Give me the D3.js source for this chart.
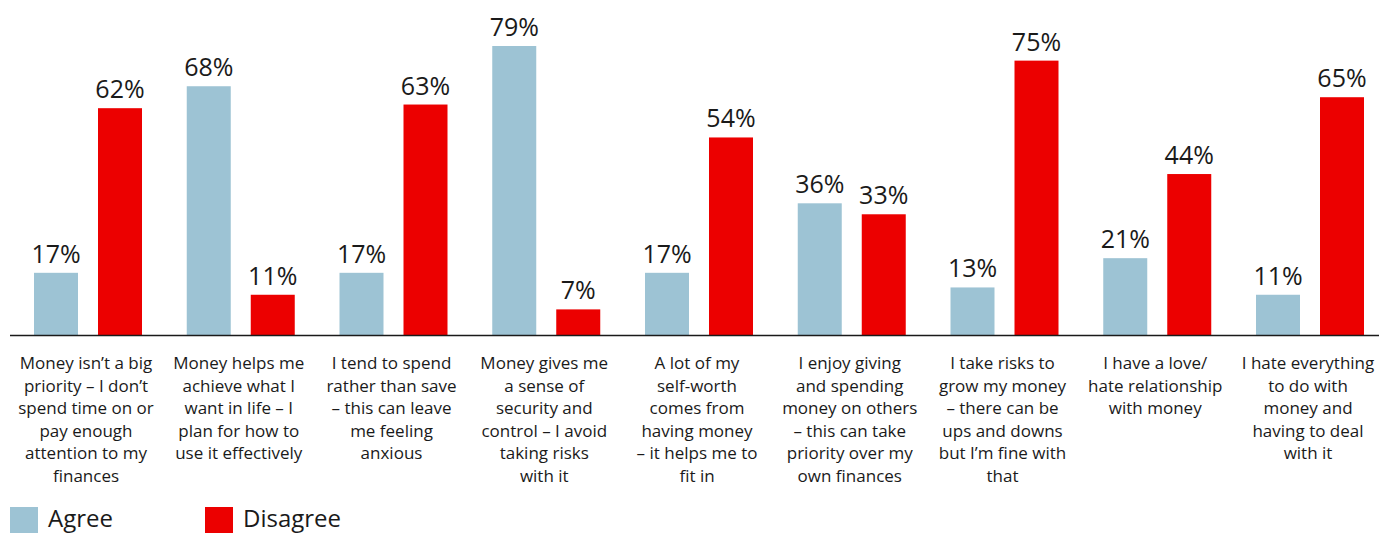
<!DOCTYPE html>
<html>
<head>
<meta charset="utf-8">
<script src="https://cdn.jsdelivr.net/npm/d3@7"></script>
<style>
  html, body { margin: 0; padding: 0; background: #fff; overflow: hidden; }
  svg { display: block; font-family: "Open Sans", sans-serif; }
</style>
</head>
<body>
<svg id="chart" width="1379" height="533"></svg>
<script>
// Attitudes to money: share who agree / disagree with each statement (%)
const categories = [
  "Money isn’t a big priority",
  "Money helps me achieve",
  "I tend to spend",
  "Money gives me security",
  "Self-worth from money",
  "Giving and spending on others",
  "Risks to grow money",
  "Love/hate relationship",
  "Hate everything about money"
];

const categoryLines = [
  ["Money isn’t a big", "priority – I don’t", "spend time on or", "pay enough", "attention to my", "finances"],
  ["Money helps me", "achieve what I", "want in life – I", "plan for how to", "use it effectively"],
  ["I tend to spend", "rather than save", "– this can leave", "me feeling", "anxious"],
  ["Money gives me", "a sense of", "security and", "control – I avoid", "taking risks", "with it"],
  ["A lot of my", "self-worth", "comes from", "having money", "– it helps me to", "fit in"],
  ["I enjoy giving", "and spending", "money on others", "– this can take", "priority over my", "own finances"],
  ["I take risks to", "grow my money", "– there can be", "ups and downs", "but I’m fine with", "that"],
  ["I have a love/", "hate relationship", "with money"],
  ["I hate everything", "to do with", "money and", "having to deal", "with it"]
];

const seriesNames = ["Agree", "Disagree"];
const agree    = [17, 68, 17, 79, 17, 36, 13, 21, 11];
const disagree = [62, 11, 63, 7, 54, 33, 75, 44, 65];

const colors = { Agree: "#9dc3d4", Disagree: "#ec0000" };
const textColor = "#1a1a1a";

const svg = d3.select("#chart");

const baseline = 335;
const x = d3.scaleBand().domain(categories).range([34, 1364]).paddingInner(44.75 / 152.75);
const xs = d3.scaleBand().domain(seriesNames).range([0, x.bandwidth()]).paddingInner(0.3125);
const y = d3.scaleLinear().domain([0, 79]).range([baseline, 46]);

const rows = categories.map((c, i) => ({
  cat: c,
  values: [
    { key: "Agree", value: agree[i] },
    { key: "Disagree", value: disagree[i] }
  ]
}));

const groups = svg.append("g").selectAll("g.group")
  .data(rows)
  .join("g")
  .attr("class", "group")
  .attr("transform", d => `translate(${x(d.cat)},0)`);

groups.selectAll("rect")
  .data(d => d.values)
  .join("rect")
  .attr("x", d => xs(d.key))
  .attr("y", d => y(d.value))
  .attr("width", xs.bandwidth())
  .attr("height", d => y(0) - y(d.value))
  .attr("fill", d => colors[d.key]);

groups.selectAll("text.value")
  .data(d => d.values)
  .join("text")
  .attr("class", "value")
  .attr("x", d => xs(d.key) + xs.bandwidth() / 2)
  .attr("y", d => y(d.value) - 10)
  .attr("text-anchor", "middle")
  .attr("font-size", 25)
  .attr("fill", textColor)
  .text(d => d.value + "%");

// Baseline axis
svg.append("line")
  .attr("x1", 10).attr("x2", 1379)
  .attr("y1", baseline + 0.5).attr("y2", baseline + 0.5)
  .attr("stroke", "#1a1a1a")
  .attr("stroke-width", 1.4);

// Category labels under each pair of bars
const labels = svg.append("g").selectAll("text.cat")
  .data(categories)
  .join("text")
  .attr("class", "cat")
  .attr("text-anchor", "middle")
  .attr("font-size", 17)
  .attr("fill", textColor)
  .attr("transform", d => `translate(${x(d) + x.bandwidth() / 2 - 2},369)`);

labels.selectAll("tspan")
  .data((d, i) => categoryLines[i])
  .join("tspan")
  .attr("x", 0)
  .attr("y", (d, i) => i * 22.5)
  .text(d => d);

// Legend
const legendX = [10, 205];
const legend = svg.append("g").selectAll("g.legend")
  .data(seriesNames)
  .join("g")
  .attr("class", "legend")
  .attr("transform", (d, i) => `translate(${legendX[i]},507)`);

legend.append("rect")
  .attr("width", 28).attr("height", 28)
  .attr("fill", d => colors[d]);

legend.append("text")
  .attr("x", 38)
  .attr("y", 20)
  .attr("font-size", 24)
  .attr("fill", textColor)
  .text(d => d);
</script>
</body>
</html>
